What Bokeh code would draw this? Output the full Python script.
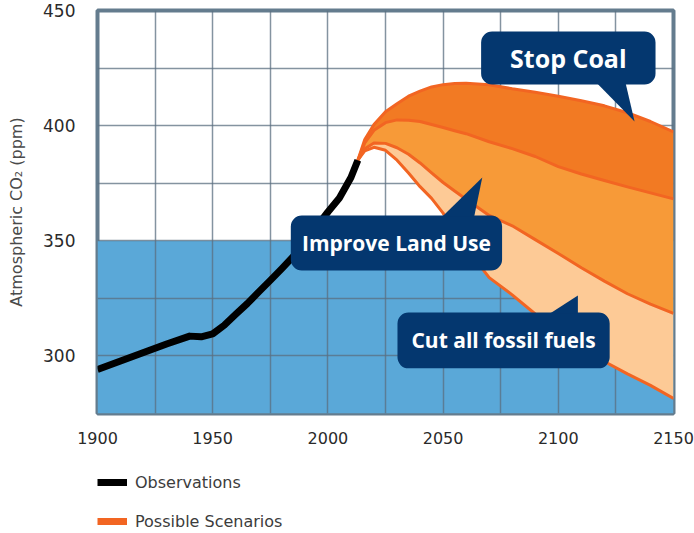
from bokeh.plotting import figure
from bokeh.layouts import column
from bokeh.models import (Range1d, Grid, FixedTicker, BoxAnnotation, PolyAnnotation,
                          Label, LinearAxis, Legend, LegendItem)
from bokeh.embed import file_html
from bokeh.resources import INLINE

# ---------------- data ----------------
obs_years = [1900, 1910, 1920, 1930, 1940, 1945, 1950, 1955, 1960, 1965, 1970,
             1975, 1980, 1985, 1990, 1995, 2000, 2005, 2010, 2013]
obs_ppm = [294.1, 297.8, 301.5, 305.2, 308.6, 308.3, 309.6, 313.3, 318.1, 322.7, 327.8,
           332.8, 337.9, 343.2, 349.7, 356.0, 362.5, 368.6, 377.5, 385.0]

scen_years = [2013, 2016, 2020, 2025, 2030, 2035, 2040, 2045, 2050, 2055, 2060,
              2070, 2080, 2090, 2100, 2110, 2120, 2130, 2140, 2150]
scen_high = [385.0, 394.0, 400.5, 406.0, 409.5, 412.8, 415.0, 416.8, 417.8, 418.3, 418.4,
             417.8, 416.0, 414.5, 412.8, 410.8, 408.6, 405.6, 401.8, 397.3]
scen_mid_high = [385.0, 392.5, 398.0, 401.3, 402.5, 402.3, 401.8, 400.5, 399.2, 397.8, 396.5,
                 393.0, 390.0, 386.6, 382.2, 379.0, 376.2, 373.4, 370.8, 368.2]
scen_mid_low = [385.0, 390.0, 392.5, 392.3, 390.4, 387.6, 383.8, 379.5, 375.3, 371.6, 368.0,
                361.0, 356.5, 350.5, 344.5, 338.3, 332.5, 327.0, 322.5, 318.5]
scen_low = [385.0, 389.0, 390.6, 389.3, 385.0, 379.4, 373.5, 368.4, 362.0, 354.5, 347.0,
            334.0, 326.5, 318.2, 311.4, 304.5, 297.6, 292.2, 287.2, 281.5]

safe_ppm = 350
x_start, x_end = 1900, 2150
y_start, y_end = 275, 450
x_ticks = [1900, 1950, 2000, 2050, 2100, 2150]
y_ticks = [300, 350, 400, 450]
grid_x = [1925, 1950, 1975, 2000, 2025, 2050, 2075, 2100, 2125]
grid_y = [300, 325, 350, 375, 400, 425]
y_title = "Atmospheric CO\u2082 (ppm)"
legend_labels = ["Observations", "Possible Scenarios"]

# callouts: box (left, right, top, bottom), pointer polygon, label text
callouts = [
    dict(text="Stop Coal", box=(2066.5, 2142.2, 440.9, 417.9),
         ptr=([2116.7, 2129.2, 2133.1], [418.5, 418.5, 401.8]), size="25px"),
    dict(text="Improve Land Use", box=(1983.9, 2075.6, 361.0, 337.1),
         ptr=([2049.7, 2063.5, 2067.0], [360.5, 360.5, 377.5]), size="21px"),
    dict(text="Cut all fossil fuels", box=(2030.2, 2122.3, 318.9, 294.6),
         ptr=([2096.4, 2108.5, 2108.5], [318.4, 318.4, 326.2]), size="21px"),
]

# ---------------- styles ----------------
NAVY = "#04376f"
BLUE = "#5aa8d8"
LINE_OR = "#f26522"
FILL1 = "#f27a23"
FILL2 = "#f79a38"
FILL3 = "#fdca96"
GRAY_TXT = "#2a2a2a"
FONT = "DejaVu Sans"

p = figure(width=694, height=460,
           x_range=Range1d(x_start, x_end), y_range=Range1d(y_start, y_end),
           x_axis_type=None, y_axis_type=None,
           output_backend="svg", toolbar_location=None,
           min_border_left=97, min_border_right=21, min_border_top=10, min_border_bottom=47,
           background_fill_color="white", border_fill_color="white",
           outline_line_color="#647c8e", outline_line_width=4)

xaxis = LinearAxis(ticker=FixedTicker(ticks=x_ticks), axis_line_color=None,
                   major_tick_line_color=None, minor_tick_line_color=None,
                   major_label_standoff=12, major_label_text_font=FONT,
                   major_label_text_font_size="16px", major_label_text_color=GRAY_TXT)
p.add_layout(xaxis, "below")
yaxis = LinearAxis(ticker=FixedTicker(ticks=y_ticks), axis_line_color=None,
                   major_tick_line_color=None, minor_tick_line_color=None,
                   major_label_standoff=16, major_label_text_font=FONT,
                   major_label_text_font_size="17px", major_label_text_color=GRAY_TXT,
                   axis_label=y_title, axis_label_standoff=14,
                   axis_label_text_font=FONT, axis_label_text_font_size="16px",
                   axis_label_text_font_style="normal", axis_label_text_color="#4a4a4a")
p.add_layout(yaxis, "left")

# safe zone (below grid)
p.quad(left=[x_start], right=[x_end], bottom=[y_start], top=[safe_ppm],
       fill_color=BLUE, line_color=None, level="image")

p.add_layout(Grid(dimension=0, ticker=FixedTicker(ticks=grid_x),
                  grid_line_color="#5b6f80", grid_line_alpha=0.75, grid_line_width=1.5))
p.add_layout(Grid(dimension=1, ticker=FixedTicker(ticks=grid_y),
                  grid_line_color="#5b6f80", grid_line_alpha=0.75, grid_line_width=1.5))

# scenario bands
p.varea(x=scen_years, y1=scen_mid_high, y2=scen_high, fill_color=FILL1)
p.varea(x=scen_years, y1=scen_mid_low, y2=scen_mid_high, fill_color=FILL2)
p.varea(x=scen_years, y1=scen_low, y2=scen_mid_low, fill_color=FILL3)
for ys in (scen_high, scen_mid_high, scen_mid_low, scen_low):
    p.line(scen_years, ys, line_width=3, line_color=LINE_OR, line_join="round")

p.line(obs_years, obs_ppm, line_width=7, line_color="black", line_join="round")

# callouts
for c in callouts:
    l, r, t, b = c["box"]
    p.add_layout(BoxAnnotation(left=l, right=r, top=t, bottom=b, fill_color=NAVY,
                               fill_alpha=1, line_color=None, border_radius=11))
    p.add_layout(PolyAnnotation(xs=c["ptr"][0], ys=c["ptr"][1], fill_color=NAVY,
                                fill_alpha=1, line_color=None))
for c in callouts:
    l, r, t, b = c["box"]
    p.add_layout(Label(x=(l + r) / 2, y=(t + b) / 2, text=c["text"], text_color="white",
                       text_font="Open Sans", text_font_style="bold",
                       text_font_size=c["size"], text_align="center",
                       text_baseline="middle"))

# ---------------- legend strip (keys drawn from the same series, out of view) ----------------
pl = figure(width=694, height=73, x_range=Range1d(0, 1), y_range=Range1d(0, 1),
            x_axis_type=None, y_axis_type=None, output_backend="svg",
            toolbar_location=None, min_border=0, outline_line_color=None,
            background_fill_color="white", border_fill_color="white")
obs_key = pl.line(obs_years, obs_ppm, line_width=7, line_color="black")
scen_key = pl.line(scen_years, scen_high, line_width=7, line_color=LINE_OR)
legend = Legend(items=[LegendItem(label=legend_labels[0], renderers=[obs_key]),
                       LegendItem(label=legend_labels[1], renderers=[scen_key])],
                location=(0, 2), orientation="vertical",
                border_line_color=None, background_fill_alpha=0,
                padding=0, margin=0, spacing=19,
                glyph_width=30, glyph_height=20, label_height=20, label_standoff=8,
                label_text_font=FONT, label_text_font_size="16px",
                label_text_color="#3c3c3c")
pl.add_layout(legend)

layout = column(p, pl, spacing=0)
open("out.html", "w").write(file_html(layout, INLINE))
